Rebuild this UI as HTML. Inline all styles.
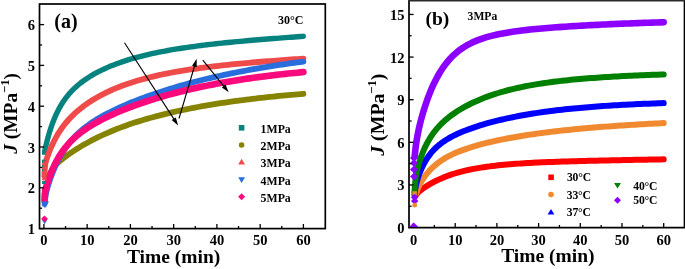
<!DOCTYPE html>
<html><head><meta charset="utf-8"><style>
html,body{margin:0;padding:0;background:#fff;width:685px;height:269px;overflow:hidden;}
svg{display:block;will-change:transform;}
</style></head><body>
<svg width="685" height="269" viewBox="0 0 685 269">
<g>
<path d="M44.70,150.98 L44.85,150.31 L44.99,149.64 L45.14,148.99 L45.29,148.34 L45.43,147.70 L45.58,147.06 L45.73,146.43 L45.88,145.81 L46.02,145.20 L46.17,144.59 L46.32,143.98 L46.46,143.39 L46.61,142.79 L46.76,142.21 L46.90,141.63 L47.05,141.06 L47.20,140.49 L47.34,139.93 L47.49,139.37 L47.64,138.82 L47.78,138.28 L47.93,137.74 L48.08,137.20 L48.23,136.67 L48.82,134.58 L49.42,132.57 L50.01,130.63 L50.61,128.77 L51.21,126.98 L51.80,125.26 L52.40,123.60 L53.00,122.00 L53.59,120.46 L54.19,118.98 L54.79,117.54 L55.38,116.16 L55.98,114.83 L56.58,113.54 L57.17,112.29 L57.77,111.08 L58.37,109.91 L58.96,108.79 L59.56,107.69 L60.16,106.63 L60.75,105.60 L61.35,104.61 L61.95,103.64 L62.54,102.70 L63.14,101.79 L63.74,100.90 L64.33,100.04 L64.93,99.20 L65.53,98.38 L68.54,94.57 L71.55,91.20 L74.56,88.20 L77.57,85.48 L80.58,83.01 L83.59,80.75 L86.60,78.66 L89.61,76.72 L92.62,74.92 L95.64,73.22 L98.65,71.63 L101.66,70.14 L104.67,68.72 L107.68,67.38 L110.69,66.11 L113.70,64.91 L116.71,63.76 L119.72,62.67 L122.74,61.63 L125.75,60.64 L128.76,59.70 L131.77,58.79 L134.78,57.93 L137.79,57.10 L140.80,56.31 L143.81,55.55 L146.82,54.83 L149.84,54.13 L152.85,53.46 L155.86,52.82 L158.87,52.20 L161.88,51.61 L164.89,51.03 L167.90,50.48 L170.91,49.95 L173.92,49.44 L176.93,48.95 L179.95,48.47 L182.96,48.01 L185.97,47.56 L188.98,47.13 L191.99,46.71 L195.00,46.31 L198.01,45.91 L201.02,45.53 L204.03,45.16 L207.05,44.80 L210.06,44.44 L213.07,44.10 L216.08,43.77 L219.09,43.44 L222.10,43.12 L225.11,42.81 L228.12,42.51 L231.13,42.21 L234.15,41.92 L237.16,41.63 L240.17,41.35 L243.18,41.08 L246.19,40.81 L249.20,40.54 L252.21,40.28 L255.22,40.03 L258.23,39.77 L261.24,39.52 L264.26,39.28 L267.27,39.04 L270.28,38.80 L273.29,38.56 L276.30,38.33 L279.31,38.10 L282.32,37.87 L285.33,37.64 L288.34,37.42 L291.36,37.20 L294.37,36.98 L297.38,36.76 L300.39,36.55 L303.40,36.33" fill="none" stroke="#06827f" stroke-width="5.4" stroke-linecap="round" stroke-linejoin="round"/>
<path d="M44.40,176.00 L44.56,172.43 L44.72,169.78 L44.88,167.79 L45.04,166.25 L45.20,165.02 L45.36,164.02 L45.52,163.17 L45.67,162.43 L45.83,161.76 L45.99,161.16 L46.15,160.59 L46.31,160.05 L46.47,159.54 L46.63,159.04 L46.79,158.55 L46.95,158.07 L47.11,157.61 L47.27,157.14 L47.43,156.69 L47.59,156.24 L47.75,155.79 L47.91,155.35 L48.07,154.92 L48.23,154.49 L48.82,152.91 L49.42,151.38 L50.01,149.90 L50.61,148.47 L51.21,147.09 L51.80,145.75 L52.40,144.45 L53.00,143.19 L53.59,141.96 L54.19,140.77 L54.79,139.62 L55.38,138.50 L55.98,137.41 L56.58,136.35 L57.17,135.32 L57.77,134.31 L58.37,133.33 L58.96,132.38 L59.56,131.45 L60.16,130.54 L60.75,129.65 L61.35,128.79 L61.95,127.95 L62.54,127.12 L63.14,126.31 L63.74,125.53 L64.33,124.75 L64.93,124.00 L65.53,123.26 L68.54,119.75 L71.55,116.57 L74.56,113.65 L77.57,110.96 L80.58,108.47 L83.59,106.15 L86.60,103.98 L89.61,101.95 L92.62,100.03 L95.64,98.22 L98.65,96.51 L101.66,94.89 L104.67,93.35 L107.68,91.89 L110.69,90.50 L113.70,89.18 L116.71,87.92 L119.72,86.72 L122.74,85.58 L125.75,84.49 L128.76,83.45 L131.77,82.45 L134.78,81.50 L137.79,80.59 L140.80,79.71 L143.81,78.88 L146.82,78.08 L149.84,77.31 L152.85,76.58 L155.86,75.87 L158.87,75.19 L161.88,74.54 L164.89,73.92 L167.90,73.32 L170.91,72.74 L173.92,72.18 L176.93,71.64 L179.95,71.13 L182.96,70.63 L185.97,70.15 L188.98,69.68 L191.99,69.23 L195.00,68.80 L198.01,68.37 L201.02,67.97 L204.03,67.57 L207.05,67.19 L210.06,66.82 L213.07,66.45 L216.08,66.10 L219.09,65.76 L222.10,65.43 L225.11,65.10 L228.12,64.79 L231.13,64.48 L234.15,64.18 L237.16,63.88 L240.17,63.60 L243.18,63.32 L246.19,63.04 L249.20,62.77 L252.21,62.51 L255.22,62.25 L258.23,61.99 L261.24,61.74 L264.26,61.50 L267.27,61.25 L270.28,61.02 L273.29,60.78 L276.30,60.55 L279.31,60.32 L282.32,60.10 L285.33,59.88 L288.34,59.66 L291.36,59.44 L294.37,59.23 L297.38,59.02 L300.39,58.81 L303.40,58.60" fill="none" stroke="#ef4b4b" stroke-width="5.8" stroke-linecap="round" stroke-linejoin="round"/>
<path d="M46.00,190.01 L46.09,189.41 L46.19,188.83 L46.28,188.26 L46.37,187.71 L46.46,187.17 L46.56,186.64 L46.65,186.13 L46.74,185.63 L46.83,185.14 L46.93,184.67 L47.02,184.20 L47.11,183.75 L47.21,183.31 L47.30,182.88 L47.39,182.46 L47.48,182.05 L47.58,181.65 L47.67,181.26 L47.76,180.87 L47.85,180.50 L47.95,180.14 L48.04,179.78 L48.13,179.43 L48.23,179.09 L48.82,177.08 L49.42,175.33 L50.01,173.80 L50.61,172.45 L51.21,171.25 L51.80,170.17 L52.40,169.20 L53.00,168.30 L53.59,167.48 L54.19,166.72 L54.79,166.00 L55.38,165.33 L55.98,164.69 L56.58,164.08 L57.17,163.49 L57.77,162.93 L58.37,162.38 L58.96,161.85 L59.56,161.33 L60.16,160.83 L60.75,160.33 L61.35,159.84 L61.95,159.37 L62.54,158.89 L63.14,158.43 L63.74,157.97 L64.33,157.52 L64.93,157.07 L65.53,156.62 L68.54,154.45 L71.55,152.38 L74.56,150.38 L77.57,148.47 L80.58,146.63 L83.59,144.86 L86.60,143.16 L89.61,141.51 L92.62,139.93 L95.64,138.40 L98.65,136.92 L101.66,135.50 L104.67,134.12 L107.68,132.79 L110.69,131.51 L113.70,130.26 L116.71,129.06 L119.72,127.90 L122.74,126.77 L125.75,125.67 L128.76,124.61 L131.77,123.59 L134.78,122.59 L137.79,121.62 L140.80,120.68 L143.81,119.77 L146.82,118.89 L149.84,118.03 L152.85,117.19 L155.86,116.38 L158.87,115.59 L161.88,114.82 L164.89,114.07 L167.90,113.34 L170.91,112.63 L173.92,111.94 L176.93,111.27 L179.95,110.61 L182.96,109.97 L185.97,109.35 L188.98,108.75 L191.99,108.15 L195.00,107.58 L198.01,107.02 L201.02,106.47 L204.03,105.93 L207.05,105.41 L210.06,104.90 L213.07,104.40 L216.08,103.92 L219.09,103.44 L222.10,102.98 L225.11,102.53 L228.12,102.09 L231.13,101.66 L234.15,101.24 L237.16,100.83 L240.17,100.42 L243.18,100.03 L246.19,99.65 L249.20,99.27 L252.21,98.90 L255.22,98.55 L258.23,98.20 L261.24,97.85 L264.26,97.52 L267.27,97.19 L270.28,96.87 L273.29,96.56 L276.30,96.25 L279.31,95.95 L282.32,95.66 L285.33,95.38 L288.34,95.10 L291.36,94.82 L294.37,94.55 L297.38,94.29 L300.39,94.04 L303.40,93.78" fill="none" stroke="#858300" stroke-width="5.8" stroke-linecap="round" stroke-linejoin="round"/>
<path d="M44.60,204.02 L44.75,202.43 L44.90,201.00 L45.05,199.72 L45.20,198.55 L45.36,197.48 L45.51,196.50 L45.66,195.59 L45.81,194.74 L45.96,193.95 L46.11,193.20 L46.26,192.49 L46.41,191.81 L46.56,191.16 L46.71,190.54 L46.87,189.93 L47.02,189.35 L47.17,188.78 L47.32,188.22 L47.47,187.68 L47.62,187.15 L47.77,186.63 L47.92,186.12 L48.07,185.62 L48.23,185.12 L48.82,183.22 L49.42,181.41 L50.01,179.66 L50.61,177.96 L51.21,176.32 L51.80,174.73 L52.40,173.18 L53.00,171.68 L53.59,170.22 L54.19,168.80 L54.79,167.42 L55.38,166.08 L55.98,164.77 L56.58,163.50 L57.17,162.26 L57.77,161.06 L58.37,159.89 L58.96,158.74 L59.56,157.63 L60.16,156.55 L60.75,155.49 L61.35,154.46 L61.95,153.46 L62.54,152.48 L63.14,151.52 L63.74,150.59 L64.33,149.68 L64.93,148.79 L65.53,147.92 L68.54,143.83 L71.55,140.16 L74.56,136.85 L77.57,133.85 L80.58,131.11 L83.59,128.58 L86.60,126.24 L89.61,124.06 L92.62,122.01 L95.64,120.08 L98.65,118.25 L101.66,116.51 L104.67,114.85 L107.68,113.26 L110.69,111.73 L113.70,110.25 L116.71,108.83 L119.72,107.45 L122.74,106.11 L125.75,104.80 L128.76,103.54 L131.77,102.30 L134.78,101.10 L137.79,99.92 L140.80,98.77 L143.81,97.65 L146.82,96.56 L149.84,95.48 L152.85,94.43 L155.86,93.41 L158.87,92.40 L161.88,91.42 L164.89,90.45 L167.90,89.51 L170.91,88.58 L173.92,87.67 L176.93,86.78 L179.95,85.91 L182.96,85.05 L185.97,84.22 L188.98,83.40 L191.99,82.59 L195.00,81.80 L198.01,81.03 L201.02,80.27 L204.03,79.52 L207.05,78.79 L210.06,78.08 L213.07,77.38 L216.08,76.69 L219.09,76.01 L222.10,75.35 L225.11,74.70 L228.12,74.07 L231.13,73.45 L234.15,72.83 L237.16,72.23 L240.17,71.65 L243.18,71.07 L246.19,70.51 L249.20,69.95 L252.21,69.41 L255.22,68.87 L258.23,68.35 L261.24,67.84 L264.26,67.34 L267.27,66.84 L270.28,66.36 L273.29,65.89 L276.30,65.42 L279.31,64.97 L282.32,64.52 L285.33,64.08 L288.34,63.65 L291.36,63.23 L294.37,62.82 L297.38,62.41 L300.39,62.02 L303.40,61.63" fill="none" stroke="#2a6ddc" stroke-width="5.8" stroke-linecap="round" stroke-linejoin="round"/>
<path d="M44.50,200.00 L44.66,197.35 L44.81,195.30 L44.97,193.67 L45.12,192.36 L45.28,191.27 L45.43,190.34 L45.59,189.53 L45.74,188.81 L45.90,188.14 L46.05,187.52 L46.21,186.94 L46.36,186.38 L46.52,185.84 L46.67,185.32 L46.83,184.81 L46.98,184.30 L47.14,183.81 L47.29,183.33 L47.45,182.85 L47.60,182.37 L47.76,181.90 L47.91,181.44 L48.07,180.98 L48.23,180.52 L48.82,178.81 L49.42,177.16 L50.01,175.56 L50.61,174.02 L51.21,172.52 L51.80,171.07 L52.40,169.67 L53.00,168.31 L53.59,167.00 L54.19,165.72 L54.79,164.48 L55.38,163.28 L55.98,162.12 L56.58,160.99 L57.17,159.89 L57.77,158.82 L58.37,157.79 L58.96,156.78 L59.56,155.80 L60.16,154.85 L60.75,153.92 L61.35,153.02 L61.95,152.14 L62.54,151.28 L63.14,150.45 L63.74,149.64 L64.33,148.84 L64.93,148.07 L65.53,147.31 L68.54,143.76 L71.55,140.59 L74.56,137.72 L77.57,135.11 L80.58,132.71 L83.59,130.50 L86.60,128.43 L89.61,126.48 L92.62,124.65 L95.64,122.91 L98.65,121.25 L101.66,119.67 L104.67,118.15 L107.68,116.69 L110.69,115.27 L113.70,113.91 L116.71,112.59 L119.72,111.31 L122.74,110.06 L125.75,108.85 L128.76,107.68 L131.77,106.54 L134.78,105.42 L137.79,104.34 L140.80,103.29 L143.81,102.26 L146.82,101.25 L149.84,100.27 L152.85,99.32 L155.86,98.39 L158.87,97.48 L161.88,96.60 L164.89,95.73 L167.90,94.89 L170.91,94.07 L173.92,93.26 L176.93,92.48 L179.95,91.71 L182.96,90.97 L185.97,90.24 L188.98,89.53 L191.99,88.83 L195.00,88.16 L198.01,87.50 L201.02,86.85 L204.03,86.22 L207.05,85.61 L210.06,85.01 L213.07,84.42 L216.08,83.85 L219.09,83.29 L222.10,82.75 L225.11,82.21 L228.12,81.70 L231.13,81.19 L234.15,80.69 L237.16,80.21 L240.17,79.74 L243.18,79.28 L246.19,78.83 L249.20,78.39 L252.21,77.97 L255.22,77.55 L258.23,77.14 L261.24,76.75 L264.26,76.36 L267.27,75.98 L270.28,75.61 L273.29,75.25 L276.30,74.90 L279.31,74.55 L282.32,74.22 L285.33,73.89 L288.34,73.57 L291.36,73.26 L294.37,72.95 L297.38,72.66 L300.39,72.37 L303.40,72.08" fill="none" stroke="#fa0a7d" stroke-width="6.6" stroke-linecap="round" stroke-linejoin="round"/>
<rect x="42.0" y="151.2" width="3.6" height="3.6" fill="#06827f"/>
<rect x="42.0" y="159.7" width="3.6" height="3.6" fill="#06827f"/>
<rect x="42.0" y="164.7" width="3.6" height="3.6" fill="#06827f"/>
<rect x="42.0" y="168.7" width="3.6" height="3.6" fill="#06827f"/>
<rect x="42.1" y="181.0" width="3.0" height="3.0" fill="#06827f"/>
<path d="M44.4,160.2 L47.4,165.2 L41.4,165.2 Z" fill="#ef4b4b"/>
<path d="M44.4,164.2 L47.4,169.2 L41.4,169.2 Z" fill="#ef4b4b"/>
<path d="M44.4,168.2 L47.4,173.2 L41.4,173.2 Z" fill="#ef4b4b"/>
<path d="M44.4,172.2 L47.4,177.2 L41.4,177.2 Z" fill="#ef4b4b"/>
<path d="M44.4,175.2 L47.4,180.2 L41.4,180.2 Z" fill="#ef4b4b"/>
<path d="M44.5,186.9 L47.6,190.0 L44.5,193.1 L41.4,190.0 Z" fill="#fa0a7d"/>
<path d="M44.5,190.9 L47.6,194.0 L44.5,197.1 L41.4,194.0 Z" fill="#fa0a7d"/>
<path d="M44.5,193.9 L47.6,197.0 L44.5,200.1 L41.4,197.0 Z" fill="#fa0a7d"/>
<path d="M44.5,196.9 L47.6,200.0 L44.5,203.1 L41.4,200.0 Z" fill="#fa0a7d"/>
<path d="M45.0,208.2 L49.0,201.6 L41.0,201.6 Z" fill="#2a6ddc"/>
<path d="M44.6,224.2 L47.6,219.2 L41.6,219.2 Z" fill="#2a6ddc"/>
<path d="M44.5,215.4 L47.9,218.8 L44.5,222.2 L41.1,218.8 Z" fill="#fa0a7d"/>
</g>
<line x1="124.5" y1="42.8" x2="174.3" y2="119.6" stroke="#000" stroke-width="1.1"/><path d="M178.1,125.5 L171.7,120.1 L175.8,117.5 Z" fill="#000"/>
<line x1="179.0" y1="118.5" x2="194.7" y2="65.5" stroke="#000" stroke-width="1.1"/><path d="M196.7,58.8 L196.7,67.2 L192.1,65.8 Z" fill="#000"/>
<line x1="202.8" y1="60.2" x2="224.3" y2="86.9" stroke="#000" stroke-width="1.1"/><path d="M228.7,92.3 L221.8,87.6 L225.5,84.6 Z" fill="#000"/>
<rect x="39.5" y="4.0" width="285.8" height="224.6" fill="none" stroke="#000" stroke-width="1.7"/>
<line x1="43.90" y1="228.60" x2="43.90" y2="224.00" stroke="#000" stroke-width="1.3"/>
<line x1="65.53" y1="228.60" x2="65.53" y2="226.00" stroke="#000" stroke-width="1.3"/>
<line x1="87.15" y1="228.60" x2="87.15" y2="224.00" stroke="#000" stroke-width="1.3"/>
<line x1="108.78" y1="228.60" x2="108.78" y2="226.00" stroke="#000" stroke-width="1.3"/>
<line x1="130.40" y1="228.60" x2="130.40" y2="224.00" stroke="#000" stroke-width="1.3"/>
<line x1="152.03" y1="228.60" x2="152.03" y2="226.00" stroke="#000" stroke-width="1.3"/>
<line x1="173.65" y1="228.60" x2="173.65" y2="224.00" stroke="#000" stroke-width="1.3"/>
<line x1="195.28" y1="228.60" x2="195.28" y2="226.00" stroke="#000" stroke-width="1.3"/>
<line x1="216.90" y1="228.60" x2="216.90" y2="224.00" stroke="#000" stroke-width="1.3"/>
<line x1="238.53" y1="228.60" x2="238.53" y2="226.00" stroke="#000" stroke-width="1.3"/>
<line x1="260.15" y1="228.60" x2="260.15" y2="224.00" stroke="#000" stroke-width="1.3"/>
<line x1="281.77" y1="228.60" x2="281.77" y2="226.00" stroke="#000" stroke-width="1.3"/>
<line x1="303.40" y1="228.60" x2="303.40" y2="224.00" stroke="#000" stroke-width="1.3"/>
<line x1="39.50" y1="228.60" x2="44.10" y2="228.60" stroke="#000" stroke-width="1.3"/>
<line x1="39.50" y1="208.20" x2="42.10" y2="208.20" stroke="#000" stroke-width="1.3"/>
<line x1="39.50" y1="187.80" x2="44.10" y2="187.80" stroke="#000" stroke-width="1.3"/>
<line x1="39.50" y1="167.40" x2="42.10" y2="167.40" stroke="#000" stroke-width="1.3"/>
<line x1="39.50" y1="147.00" x2="44.10" y2="147.00" stroke="#000" stroke-width="1.3"/>
<line x1="39.50" y1="126.60" x2="42.10" y2="126.60" stroke="#000" stroke-width="1.3"/>
<line x1="39.50" y1="106.20" x2="44.10" y2="106.20" stroke="#000" stroke-width="1.3"/>
<line x1="39.50" y1="85.80" x2="42.10" y2="85.80" stroke="#000" stroke-width="1.3"/>
<line x1="39.50" y1="65.40" x2="44.10" y2="65.40" stroke="#000" stroke-width="1.3"/>
<line x1="39.50" y1="45.00" x2="42.10" y2="45.00" stroke="#000" stroke-width="1.3"/>
<line x1="39.50" y1="24.60" x2="44.10" y2="24.60" stroke="#000" stroke-width="1.3"/>
<text x="43.90" y="245.2" font-family="Liberation Serif" font-weight="bold" font-size="14.5" text-anchor="middle">0</text>
<text x="87.15" y="245.2" font-family="Liberation Serif" font-weight="bold" font-size="14.5" text-anchor="middle">10</text>
<text x="130.40" y="245.2" font-family="Liberation Serif" font-weight="bold" font-size="14.5" text-anchor="middle">20</text>
<text x="173.65" y="245.2" font-family="Liberation Serif" font-weight="bold" font-size="14.5" text-anchor="middle">30</text>
<text x="216.90" y="245.2" font-family="Liberation Serif" font-weight="bold" font-size="14.5" text-anchor="middle">40</text>
<text x="260.15" y="245.2" font-family="Liberation Serif" font-weight="bold" font-size="14.5" text-anchor="middle">50</text>
<text x="303.40" y="245.2" font-family="Liberation Serif" font-weight="bold" font-size="14.5" text-anchor="middle">60</text>
<text x="35" y="234.10" font-family="Liberation Serif" font-weight="bold" font-size="14.5" text-anchor="end">1</text>
<text x="35" y="193.30" font-family="Liberation Serif" font-weight="bold" font-size="14.5" text-anchor="end">2</text>
<text x="35" y="152.50" font-family="Liberation Serif" font-weight="bold" font-size="14.5" text-anchor="end">3</text>
<text x="35" y="111.70" font-family="Liberation Serif" font-weight="bold" font-size="14.5" text-anchor="end">4</text>
<text x="35" y="70.90" font-family="Liberation Serif" font-weight="bold" font-size="14.5" text-anchor="end">5</text>
<text x="35" y="30.10" font-family="Liberation Serif" font-weight="bold" font-size="14.5" text-anchor="end">6</text>
<text x="173.6" y="263.1" font-family="Liberation Serif" font-weight="bold" font-size="19.5" text-anchor="middle">Time (min)</text>
<text transform="translate(17.2,113.4) rotate(-90)" font-family="Liberation Serif" font-weight="bold" font-size="19.4" text-anchor="middle"><tspan font-style="italic">J</tspan> (MPa<tspan font-size="12.5" dy="-8.5">&#8722;1</tspan><tspan dy="8.5">)</tspan></text>
<text x="54.3" y="27.8" font-family="Liberation Serif" font-weight="bold" font-size="20">(a)</text>
<text x="278" y="24" font-family="Liberation Serif" font-weight="bold" font-size="12">30&#176;C</text>
<rect x="238.8" y="125.0" width="5.6" height="5.6" fill="#06827f"/>
<text x="260.6" y="132.7" font-family="Liberation Serif" font-weight="bold" font-size="11.8">1MPa</text>
<circle cx="241.6" cy="145.0" r="2.8" fill="#858300"/>
<text x="260.6" y="149.9" font-family="Liberation Serif" font-weight="bold" font-size="11.8">2MPa</text>
<path d="M241.6,158.8 L245.0,164.4 L238.2,164.4 Z" fill="#ef4b4b"/>
<text x="260.6" y="166.8" font-family="Liberation Serif" font-weight="bold" font-size="11.8">3MPa</text>
<path d="M241.6,182.9 L245.0,177.3 L238.2,177.3 Z" fill="#2a6ddc"/>
<text x="260.6" y="184.7" font-family="Liberation Serif" font-weight="bold" font-size="11.8">4MPa</text>
<path d="M241.6,193.3 L245.1,196.8 L241.6,200.3 L238.1,196.8 Z" fill="#fa0a7d"/>
<text x="260.6" y="201.7" font-family="Liberation Serif" font-weight="bold" font-size="11.8">5MPa</text>
<path d="M417.00,193.89 L417.03,193.84 L417.06,193.80 L417.08,193.75 L417.11,193.71 L417.14,193.66 L417.17,193.62 L417.20,193.58 L417.22,193.54 L417.25,193.50 L417.28,193.46 L417.31,193.42 L417.33,193.38 L417.36,193.34 L417.39,193.30 L417.42,193.27 L417.45,193.23 L417.47,193.19 L417.50,193.16 L417.53,193.12 L417.56,193.09 L417.59,193.05 L417.61,193.02 L417.64,192.98 L417.67,192.95 L418.25,192.31 L418.82,191.77 L419.40,191.27 L419.97,190.80 L420.55,190.35 L421.12,189.92 L421.70,189.49 L422.27,189.08 L422.85,188.67 L423.42,188.27 L424.00,187.87 L424.57,187.48 L425.15,187.10 L425.72,186.72 L426.30,186.35 L426.87,185.98 L427.45,185.62 L428.02,185.26 L428.60,184.91 L429.17,184.57 L429.75,184.23 L430.32,183.89 L430.90,183.56 L431.47,183.24 L432.05,182.92 L432.62,182.60 L433.20,182.29 L433.77,181.99 L434.35,181.69 L437.25,180.23 L440.16,178.89 L443.06,177.64 L445.96,176.48 L448.87,175.41 L451.77,174.41 L454.67,173.49 L457.58,172.63 L460.48,171.83 L463.38,171.09 L466.28,170.41 L469.19,169.77 L472.09,169.17 L474.99,168.62 L477.90,168.10 L480.80,167.62 L483.70,167.18 L486.61,166.76 L489.51,166.37 L492.41,166.01 L495.32,165.67 L498.22,165.35 L501.12,165.05 L504.03,164.77 L506.93,164.51 L509.83,164.27 L512.74,164.04 L515.64,163.82 L518.54,163.62 L521.44,163.43 L524.35,163.24 L527.25,163.07 L530.15,162.91 L533.06,162.76 L535.96,162.61 L538.86,162.48 L541.77,162.35 L544.67,162.22 L547.57,162.10 L550.48,161.99 L553.38,161.88 L556.28,161.78 L559.19,161.68 L562.09,161.58 L564.99,161.49 L567.90,161.40 L570.80,161.31 L573.70,161.23 L576.61,161.15 L579.51,161.07 L582.41,160.99 L585.31,160.92 L588.22,160.85 L591.12,160.78 L594.02,160.71 L596.93,160.64 L599.83,160.58 L602.73,160.51 L605.64,160.45 L608.54,160.39 L611.44,160.33 L614.35,160.27 L617.25,160.21 L620.15,160.15 L623.06,160.10 L625.96,160.04 L628.86,159.98 L631.77,159.93 L634.67,159.87 L637.57,159.82 L640.47,159.76 L643.38,159.71 L646.28,159.66 L649.18,159.60 L652.09,159.55 L654.99,159.50 L657.89,159.45 L660.80,159.40 L663.70,159.35" fill="none" stroke="#ff0000" stroke-width="6.0" stroke-linecap="round" stroke-linejoin="round"/>
<path d="M416.50,192.90 L416.55,192.70 L416.60,192.51 L416.65,192.33 L416.69,192.14 L416.74,191.96 L416.79,191.79 L416.84,191.61 L416.89,191.44 L416.94,191.28 L416.99,191.11 L417.04,190.95 L417.08,190.80 L417.13,190.64 L417.18,190.49 L417.23,190.34 L417.28,190.19 L417.33,190.04 L417.38,189.90 L417.43,189.76 L417.48,189.62 L417.52,189.48 L417.57,189.35 L417.62,189.21 L417.67,189.08 L418.25,187.64 L418.82,186.35 L419.40,185.16 L419.97,184.06 L420.55,183.02 L421.12,182.02 L421.70,181.06 L422.27,180.13 L422.85,179.24 L423.42,178.37 L424.00,177.54 L424.57,176.72 L425.15,175.93 L425.72,175.17 L426.30,174.42 L426.87,173.70 L427.45,172.99 L428.02,172.31 L428.60,171.64 L429.17,171.00 L429.75,170.37 L430.32,169.75 L430.90,169.16 L431.47,168.57 L432.05,168.01 L432.62,167.46 L433.20,166.92 L433.77,166.39 L434.35,165.88 L437.25,163.47 L440.16,161.33 L443.06,159.41 L445.96,157.67 L448.87,156.09 L451.77,154.64 L454.67,153.30 L457.58,152.06 L460.48,150.90 L463.38,149.82 L466.28,148.80 L469.19,147.83 L472.09,146.92 L474.99,146.05 L477.90,145.22 L480.80,144.43 L483.70,143.67 L486.61,142.94 L489.51,142.24 L492.41,141.56 L495.32,140.91 L498.22,140.29 L501.12,139.68 L504.03,139.10 L506.93,138.53 L509.83,137.99 L512.74,137.46 L515.64,136.94 L518.54,136.45 L521.44,135.97 L524.35,135.50 L527.25,135.05 L530.15,134.61 L533.06,134.18 L535.96,133.77 L538.86,133.37 L541.77,132.98 L544.67,132.60 L547.57,132.23 L550.48,131.88 L553.38,131.53 L556.28,131.19 L559.19,130.86 L562.09,130.54 L564.99,130.23 L567.90,129.93 L570.80,129.64 L573.70,129.35 L576.61,129.07 L579.51,128.80 L582.41,128.53 L585.31,128.27 L588.22,128.02 L591.12,127.77 L594.02,127.53 L596.93,127.30 L599.83,127.07 L602.73,126.85 L605.64,126.63 L608.54,126.41 L611.44,126.21 L614.35,126.00 L617.25,125.80 L620.15,125.61 L623.06,125.42 L625.96,125.23 L628.86,125.05 L631.77,124.87 L634.67,124.69 L637.57,124.52 L640.47,124.35 L643.38,124.19 L646.28,124.02 L649.18,123.86 L652.09,123.71 L654.99,123.55 L657.89,123.40 L660.80,123.26 L663.70,123.11" fill="none" stroke="#f0892f" stroke-width="6.0" stroke-linecap="round" stroke-linejoin="round"/>
<path d="M414.50,195.00 L414.63,193.76 L414.76,192.62 L414.90,191.56 L415.03,190.58 L415.16,189.66 L415.29,188.81 L415.42,188.00 L415.56,187.25 L415.69,186.53 L415.82,185.85 L415.95,185.21 L416.08,184.59 L416.22,184.00 L416.35,183.44 L416.48,182.89 L416.61,182.37 L416.75,181.86 L416.88,181.37 L417.01,180.89 L417.14,180.43 L417.27,179.97 L417.41,179.53 L417.54,179.10 L417.67,178.68 L418.25,176.92 L418.82,175.29 L419.40,173.75 L419.97,172.28 L420.55,170.89 L421.12,169.55 L421.70,168.27 L422.27,167.04 L422.85,165.85 L423.42,164.71 L424.00,163.62 L424.57,162.56 L425.15,161.55 L425.72,160.57 L426.30,159.62 L426.87,158.71 L427.45,157.83 L428.02,156.98 L428.60,156.16 L429.17,155.37 L429.75,154.60 L430.32,153.86 L430.90,153.14 L431.47,152.45 L432.05,151.77 L432.62,151.12 L433.20,150.49 L433.77,149.87 L434.35,149.27 L437.25,146.50 L440.16,144.08 L443.06,141.93 L445.96,140.00 L448.87,138.25 L451.77,136.66 L454.67,135.18 L457.58,133.81 L460.48,132.52 L463.38,131.31 L466.28,130.17 L469.19,129.08 L472.09,128.05 L474.99,127.06 L477.90,126.11 L480.80,125.20 L483.70,124.33 L486.61,123.49 L489.51,122.69 L492.41,121.91 L495.32,121.16 L498.22,120.44 L501.12,119.75 L504.03,119.08 L506.93,118.43 L509.83,117.81 L512.74,117.21 L515.64,116.63 L518.54,116.07 L521.44,115.53 L524.35,115.01 L527.25,114.50 L530.15,114.02 L533.06,113.55 L535.96,113.09 L538.86,112.65 L541.77,112.23 L544.67,111.82 L547.57,111.43 L550.48,111.05 L553.38,110.68 L556.28,110.33 L559.19,109.99 L562.09,109.66 L564.99,109.34 L567.90,109.03 L570.80,108.73 L573.70,108.44 L576.61,108.17 L579.51,107.90 L582.41,107.64 L585.31,107.39 L588.22,107.15 L591.12,106.92 L594.02,106.69 L596.93,106.47 L599.83,106.26 L602.73,106.06 L605.64,105.87 L608.54,105.68 L611.44,105.50 L614.35,105.32 L617.25,105.15 L620.15,104.99 L623.06,104.83 L625.96,104.68 L628.86,104.53 L631.77,104.39 L634.67,104.25 L637.57,104.12 L640.47,103.99 L643.38,103.86 L646.28,103.74 L649.18,103.63 L652.09,103.52 L654.99,103.41 L657.89,103.31 L660.80,103.21 L663.70,103.11" fill="none" stroke="#0000ff" stroke-width="6.0" stroke-linecap="round" stroke-linejoin="round"/>
<path d="M414.50,192.00 L414.63,189.89 L414.76,187.98 L414.90,186.24 L415.03,184.66 L415.16,183.21 L415.29,181.88 L415.42,180.66 L415.56,179.52 L415.69,178.47 L415.82,177.49 L415.95,176.57 L416.08,175.71 L416.22,174.89 L416.35,174.12 L416.48,173.38 L416.61,172.68 L416.75,172.01 L416.88,171.36 L417.01,170.74 L417.14,170.15 L417.27,169.57 L417.41,169.00 L417.54,168.46 L417.67,167.93 L418.25,165.75 L418.82,163.74 L419.40,161.86 L419.97,160.08 L420.55,158.38 L421.12,156.76 L421.70,155.21 L422.27,153.72 L422.85,152.28 L423.42,150.90 L424.00,149.56 L424.57,148.28 L425.15,147.04 L425.72,145.84 L426.30,144.69 L426.87,143.57 L427.45,142.49 L428.02,141.44 L428.60,140.43 L429.17,139.45 L429.75,138.49 L430.32,137.57 L430.90,136.67 L431.47,135.80 L432.05,134.95 L432.62,134.13 L433.20,133.33 L433.77,132.55 L434.35,131.79 L437.25,128.22 L440.16,125.05 L443.06,122.19 L445.96,119.59 L448.87,117.21 L451.77,115.01 L454.67,112.96 L457.58,111.04 L460.48,109.25 L463.38,107.56 L466.28,105.96 L469.19,104.46 L472.09,103.03 L474.99,101.67 L477.90,100.39 L480.80,99.17 L483.70,98.01 L486.61,96.90 L489.51,95.85 L492.41,94.85 L495.32,93.90 L498.22,92.99 L501.12,92.12 L504.03,91.30 L506.93,90.51 L509.83,89.76 L512.74,89.04 L515.64,88.36 L518.54,87.71 L521.44,87.09 L524.35,86.49 L527.25,85.92 L530.15,85.38 L533.06,84.86 L535.96,84.37 L538.86,83.90 L541.77,83.44 L544.67,83.01 L547.57,82.60 L550.48,82.20 L553.38,81.82 L556.28,81.46 L559.19,81.11 L562.09,80.78 L564.99,80.46 L567.90,80.15 L570.80,79.86 L573.70,79.57 L576.61,79.30 L579.51,79.04 L582.41,78.79 L585.31,78.55 L588.22,78.32 L591.12,78.10 L594.02,77.89 L596.93,77.68 L599.83,77.48 L602.73,77.29 L605.64,77.11 L608.54,76.93 L611.44,76.76 L614.35,76.59 L617.25,76.43 L620.15,76.27 L623.06,76.12 L625.96,75.98 L628.86,75.84 L631.77,75.70 L634.67,75.57 L637.57,75.44 L640.47,75.32 L643.38,75.19 L646.28,75.08 L649.18,74.96 L652.09,74.85 L654.99,74.74 L657.89,74.63 L660.80,74.53 L663.70,74.43" fill="none" stroke="#008000" stroke-width="6.0" stroke-linecap="round" stroke-linejoin="round"/>
<path d="M414.70,156.08 L414.82,154.81 L414.95,153.58 L415.07,152.41 L415.19,151.28 L415.32,150.19 L415.44,149.14 L415.57,148.12 L415.69,147.13 L415.81,146.18 L415.94,145.26 L416.06,144.36 L416.19,143.49 L416.31,142.65 L416.43,141.83 L416.56,141.03 L416.68,140.24 L416.80,139.48 L416.93,138.74 L417.05,138.01 L417.18,137.30 L417.30,136.60 L417.42,135.92 L417.55,135.25 L417.67,134.60 L418.25,131.70 L418.82,129.00 L419.40,126.46 L419.97,124.05 L420.55,121.75 L421.12,119.54 L421.70,117.42 L422.27,115.36 L422.85,113.36 L423.42,111.43 L424.00,109.54 L424.57,107.71 L425.15,105.93 L425.72,104.19 L426.30,102.49 L426.87,100.84 L427.45,99.23 L428.02,97.66 L428.60,96.12 L429.17,94.63 L429.75,93.17 L430.32,91.74 L430.90,90.35 L431.47,88.99 L432.05,87.67 L432.62,86.38 L433.20,85.11 L433.77,83.88 L434.35,82.68 L437.25,77.03 L440.16,72.02 L443.06,67.57 L445.96,63.62 L448.87,60.11 L451.77,56.98 L454.67,54.20 L457.58,51.71 L460.48,49.48 L463.38,47.48 L466.28,45.69 L469.19,44.08 L472.09,42.63 L474.99,41.32 L477.90,40.14 L480.80,39.06 L483.70,38.08 L486.61,37.19 L489.51,36.37 L492.41,35.63 L495.32,34.94 L498.22,34.30 L501.12,33.72 L504.03,33.17 L506.93,32.67 L509.83,32.19 L512.74,31.75 L515.64,31.34 L518.54,30.95 L521.44,30.58 L524.35,30.23 L527.25,29.90 L530.15,29.59 L533.06,29.29 L535.96,29.00 L538.86,28.73 L541.77,28.47 L544.67,28.21 L547.57,27.97 L550.48,27.74 L553.38,27.51 L556.28,27.30 L559.19,27.09 L562.09,26.88 L564.99,26.69 L567.90,26.49 L570.80,26.31 L573.70,26.13 L576.61,25.95 L579.51,25.78 L582.41,25.62 L585.31,25.45 L588.22,25.30 L591.12,25.14 L594.02,24.99 L596.93,24.85 L599.83,24.70 L602.73,24.56 L605.64,24.43 L608.54,24.29 L611.44,24.16 L614.35,24.04 L617.25,23.91 L620.15,23.79 L623.06,23.67 L625.96,23.55 L628.86,23.44 L631.77,23.33 L634.67,23.22 L637.57,23.11 L640.47,23.01 L643.38,22.91 L646.28,22.81 L649.18,22.71 L652.09,22.61 L654.99,22.52 L657.89,22.43 L660.80,22.34 L663.70,22.25" fill="none" stroke="#8c00ff" stroke-width="6.6" stroke-linecap="round" stroke-linejoin="round"/>
<path d="M414.0,154.0 L418.0,158.0 L414.0,162.0 L410.0,158.0 Z" fill="#8c00ff"/>
<path d="M414.0,159.0 L418.0,163.0 L414.0,167.0 L410.0,163.0 Z" fill="#8c00ff"/>
<path d="M414.0,165.5 L418.0,169.5 L414.0,173.5 L410.0,169.5 Z" fill="#8c00ff"/>
<path d="M414.0,172.5 L418.0,176.5 L414.0,180.5 L410.0,176.5 Z" fill="#8c00ff"/>
<rect x="412.4" y="191.2" width="4.5" height="4.5" fill="#f0892f"/>
<path d="M414.7,193.8 L418.4,197.5 L414.7,201.2 L411.0,197.5 Z" fill="#8c00ff"/>
<path d="M414.7,197.3 L418.4,201.0 L414.7,204.7 L411.0,201.0 Z" fill="#8c00ff"/>
<circle cx="414.7" cy="205.2" r="2.4" fill="#f0892f"/>
<path d="M409.0,0.6 L409.0,227.6 L684.5,227.6 L684.5,0.6" fill="none" stroke="#000" stroke-width="1.7" stroke-linejoin="miter"/>
<line x1="408.1" y1="0.7" x2="685.4" y2="0.7" stroke="#2a2a2a" stroke-width="1.5"/>
<line x1="413.50" y1="227.60" x2="413.50" y2="223.00" stroke="#000" stroke-width="1.3"/>
<line x1="434.35" y1="227.60" x2="434.35" y2="225.00" stroke="#000" stroke-width="1.3"/>
<line x1="455.20" y1="227.60" x2="455.20" y2="223.00" stroke="#000" stroke-width="1.3"/>
<line x1="476.05" y1="227.60" x2="476.05" y2="225.00" stroke="#000" stroke-width="1.3"/>
<line x1="496.90" y1="227.60" x2="496.90" y2="223.00" stroke="#000" stroke-width="1.3"/>
<line x1="517.75" y1="227.60" x2="517.75" y2="225.00" stroke="#000" stroke-width="1.3"/>
<line x1="538.60" y1="227.60" x2="538.60" y2="223.00" stroke="#000" stroke-width="1.3"/>
<line x1="559.45" y1="227.60" x2="559.45" y2="225.00" stroke="#000" stroke-width="1.3"/>
<line x1="580.30" y1="227.60" x2="580.30" y2="223.00" stroke="#000" stroke-width="1.3"/>
<line x1="601.15" y1="227.60" x2="601.15" y2="225.00" stroke="#000" stroke-width="1.3"/>
<line x1="622.00" y1="227.60" x2="622.00" y2="223.00" stroke="#000" stroke-width="1.3"/>
<line x1="642.85" y1="227.60" x2="642.85" y2="225.00" stroke="#000" stroke-width="1.3"/>
<line x1="663.70" y1="227.60" x2="663.70" y2="223.00" stroke="#000" stroke-width="1.3"/>
<line x1="409.00" y1="206.28" x2="411.60" y2="206.28" stroke="#000" stroke-width="1.3"/>
<line x1="409.00" y1="184.97" x2="413.60" y2="184.97" stroke="#000" stroke-width="1.3"/>
<line x1="409.00" y1="163.65" x2="411.60" y2="163.65" stroke="#000" stroke-width="1.3"/>
<line x1="409.00" y1="142.34" x2="413.60" y2="142.34" stroke="#000" stroke-width="1.3"/>
<line x1="409.00" y1="121.02" x2="411.60" y2="121.02" stroke="#000" stroke-width="1.3"/>
<line x1="409.00" y1="99.71" x2="413.60" y2="99.71" stroke="#000" stroke-width="1.3"/>
<line x1="409.00" y1="78.39" x2="411.60" y2="78.39" stroke="#000" stroke-width="1.3"/>
<line x1="409.00" y1="57.08" x2="413.60" y2="57.08" stroke="#000" stroke-width="1.3"/>
<line x1="409.00" y1="35.76" x2="411.60" y2="35.76" stroke="#000" stroke-width="1.3"/>
<line x1="409.00" y1="14.45" x2="413.60" y2="14.45" stroke="#000" stroke-width="1.3"/>
<path d="M413.7,222.4 L418.4,226.9 L409.0,226.9 Z" fill="#8c00ff"/>
<text x="413.50" y="245.2" font-family="Liberation Serif" font-weight="bold" font-size="14.5" text-anchor="middle">0</text>
<text x="455.20" y="245.2" font-family="Liberation Serif" font-weight="bold" font-size="14.5" text-anchor="middle">10</text>
<text x="496.90" y="245.2" font-family="Liberation Serif" font-weight="bold" font-size="14.5" text-anchor="middle">20</text>
<text x="538.60" y="245.2" font-family="Liberation Serif" font-weight="bold" font-size="14.5" text-anchor="middle">30</text>
<text x="580.30" y="245.2" font-family="Liberation Serif" font-weight="bold" font-size="14.5" text-anchor="middle">40</text>
<text x="622.00" y="245.2" font-family="Liberation Serif" font-weight="bold" font-size="14.5" text-anchor="middle">50</text>
<text x="663.70" y="245.2" font-family="Liberation Serif" font-weight="bold" font-size="14.5" text-anchor="middle">60</text>
<text x="404.5" y="233.10" font-family="Liberation Serif" font-weight="bold" font-size="14.5" text-anchor="end">0</text>
<text x="404.5" y="190.47" font-family="Liberation Serif" font-weight="bold" font-size="14.5" text-anchor="end">3</text>
<text x="404.5" y="147.84" font-family="Liberation Serif" font-weight="bold" font-size="14.5" text-anchor="end">6</text>
<text x="404.5" y="105.21" font-family="Liberation Serif" font-weight="bold" font-size="14.5" text-anchor="end">9</text>
<text x="404.5" y="62.58" font-family="Liberation Serif" font-weight="bold" font-size="14.5" text-anchor="end">12</text>
<text x="404.5" y="19.95" font-family="Liberation Serif" font-weight="bold" font-size="14.5" text-anchor="end">15</text>
<text x="547.9" y="262" font-family="Liberation Serif" font-weight="bold" font-size="19.5" text-anchor="middle">Time (min)</text>
<text transform="translate(384.2,114.7) rotate(-90)" font-family="Liberation Serif" font-weight="bold" font-size="19.8" text-anchor="middle"><tspan font-style="italic">J</tspan> (MPa<tspan font-size="12.5" dy="-8.5">&#8722;1</tspan><tspan dy="8.5">)</tspan></text>
<text x="425.4" y="24.6" font-family="Liberation Serif" font-weight="bold" font-size="19.5">(b)</text>
<text x="467.6" y="20" font-family="Liberation Serif" font-weight="bold" font-size="11.6">3MPa</text>
<rect x="548.3" y="174.5" width="5.6" height="5.6" fill="#ff0000"/>
<text x="566.9" y="181.3" font-family="Liberation Serif" font-weight="bold" font-size="11.6" letter-spacing="-0.15">30&#176;C</text>
<circle cx="551.0" cy="194.5" r="2.8" fill="#f0892f"/>
<text x="566.8" y="198.5" font-family="Liberation Serif" font-weight="bold" font-size="11.6" letter-spacing="-0.15">33&#176;C</text>
<path d="M551.0,208.9 L554.4,214.5 L547.6,214.5 Z" fill="#0000ff"/>
<text x="566.8" y="216.0" font-family="Liberation Serif" font-weight="bold" font-size="11.6" letter-spacing="-0.15">37&#176;C</text>
<path d="M617.5,188.6 L620.9,183.0 L614.1,183.0 Z" fill="#008000"/>
<text x="633.3" y="189.5" font-family="Liberation Serif" font-weight="bold" font-size="11.6" letter-spacing="-0.15">40&#176;C</text>
<path d="M617.5,196.7 L621.0,200.2 L617.5,203.7 L614.0,200.2 Z" fill="#8c00ff"/>
<text x="633.3" y="204.2" font-family="Liberation Serif" font-weight="bold" font-size="11.6" letter-spacing="-0.15">50&#176;C</text>
</svg>
</body></html>
